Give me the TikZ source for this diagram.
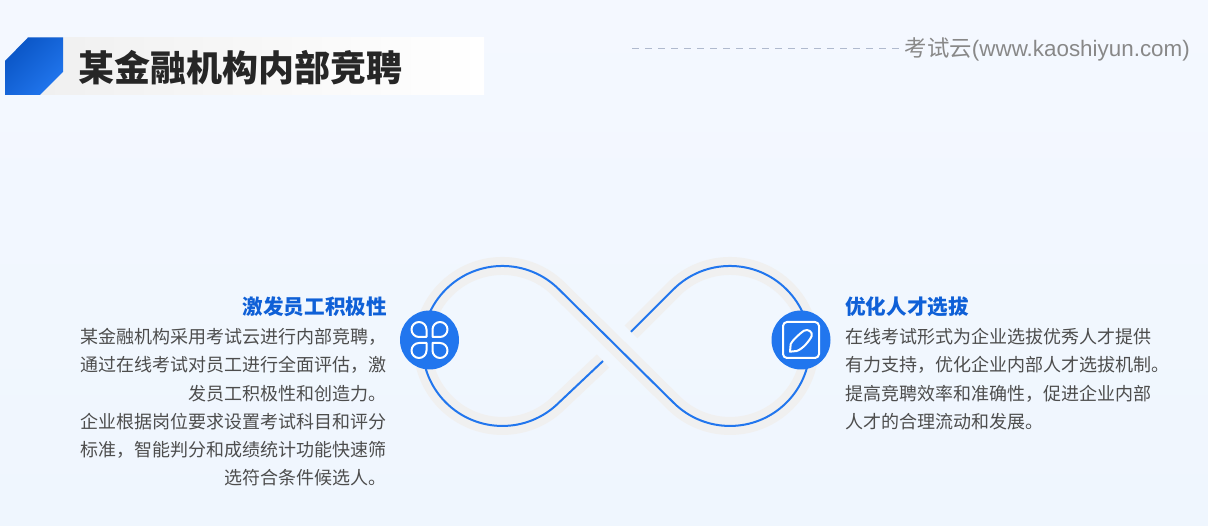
\documentclass[tikz,border=0pt]{standalone}
\usepackage{xcolor}
\usepackage{fontspec}
\setmainfont{Noto Sans CJK SC}
\newfontfamily\sitefont{Liberation Sans}
\usepackage{tikz}
\usetikzlibrary{positioning,calc}
\definecolor{LoopBlue}{RGB}{33,118,238}
\definecolor{DeepBlue}{RGB}{10,85,197}
\definecolor{HeadBlue}{RGB}{15,96,215}
\definecolor{BandGray}{RGB}{240,240,240}
\definecolor{PageTop}{RGB}{244,248,255}
\definecolor{PageLow}{RGB}{239,246,254}
\definecolor{BodyGray}{RGB}{77,77,77}
\definecolor{SiteGray}{RGB}{136,136,136}
\definecolor{DashGray}{RGB}{176,186,206}

\begin{document}
\begin{tikzpicture}[
  x=1pt,y=1pt,
  icondisc/.style={circle,fill=LoopBlue,minimum size=59pt,inner sep=0pt},
  headtext/.style={inner sep=0pt,font=\fontsize{20.6}{24}\selectfont\bfseries,text=HeadBlue},
  bodytext/.style={inner sep=0pt,font=\fontsize{18}{28.3}\selectfont,text=BodyGray},
  glyph/.style={draw=white,line width=2pt,line join=round}
]
\useasboundingbox (0,0) rectangle (1208,526);
\shade[top color=PageTop,bottom color=PageLow] (0,0) rectangle (1208,526);
% title bar
\shade[left color=BandGray,right color=white] (40,431) rectangle (484,488.5);
\shade[left color=DeepBlue,right color=LoopBlue,shading angle=45]
  (5,465) -- (28,488.5) -- (63,488.5) -- (63,454) -- (40,431) -- (5,431) -- cycle;
\node[anchor=west,inner sep=0pt,font=\fontsize{36}{40}\selectfont\bfseries,text=black!85] (title) at (78,458) {某金融机构内部竞聘};
% site mark
\node[anchor=east,inner sep=0pt,font=\fontsize{22.4}{26}\selectfont,text=SiteGray] (site) at (1190,477) {考试云{\sitefont(www.kaoshiyun.com)}};
\coordinate (dashstart) at (632,477.5);
\draw[DashGray,line width=1pt,dash pattern=on 7pt off 6pt] (dashstart) -- (site.west |- dashstart);
% loop
\coordinate (lefttop) at (559,236.6);
\coordinate (rightend) at (631,194.2);
\coordinate (righttop) at (673.4,236.6);
\coordinate (leftend) at (603,165);
\foreach \bandcolor/\bandwidth/\bandshift in {BandGray/18pt/2pt,LoopBlue/2pt/0pt}{
  \draw[\bandcolor,line width=\bandwidth,yshift=\bandshift]
    (rightend) -- (righttop) arc[start angle=135,end angle=-135,radius=80]
    -- (lefttop) arc[start angle=45,end angle=315,radius=80] -- (leftend);
}
% icons
\node[icondisc] (iconleft) at (429.5,186) {};
\node[icondisc] (iconright) at (801,186) {};
\foreach \petal in {0,90,180,270}{
  \draw[glyph,shift={(iconleft.center)},rotate=\petal]
    (3,3) -- (10.5,3) arc[start angle=-90,end angle=180,radius=7.5] -- cycle;
}
\draw[glyph,rounded corners=4pt,shift={(iconright.center)}] (-18,-18) rectangle (18,18);
\draw[glyph,shift={(iconright.center)}]
  (-11,-11.7) -- (-10.3,-4) .. controls (-9,-1) and (-2,6) .. (3,9.3)
  .. controls (7,11.5) and (12,8) .. (10.7,4)
  .. controls (9,0) and (2,-9) .. (-4.3,-11) -- cycle;
% left text
\node[headtext,anchor=east] (lefthead) at (387,219) {激发员工积极性};
\node[bodytext,anchor=north east,align=right] (leftbody) at (387,198) {某金融机构采用考试云进行内部竞聘，\\通过在线考试对员工进行全面评估，激\\发员工积极性和创造力。\\企业根据岗位要求设置考试科目和评分\\标准，智能判分和成绩统计功能快速筛\\选符合条件候选人。};
% right text
\node[headtext,anchor=west] (righthead) at (845,219) {优化人才选拔};
\node[bodytext,anchor=north west,align=left] (rightbody) at (845,198) {在线考试形式为企业选拔优秀人才提供\\有力支持，优化企业内部人才选拔机制。\\提高竞聘效率和准确性，促进企业内部\\人才的合理流动和发展。};
\end{tikzpicture}
\end{document}
